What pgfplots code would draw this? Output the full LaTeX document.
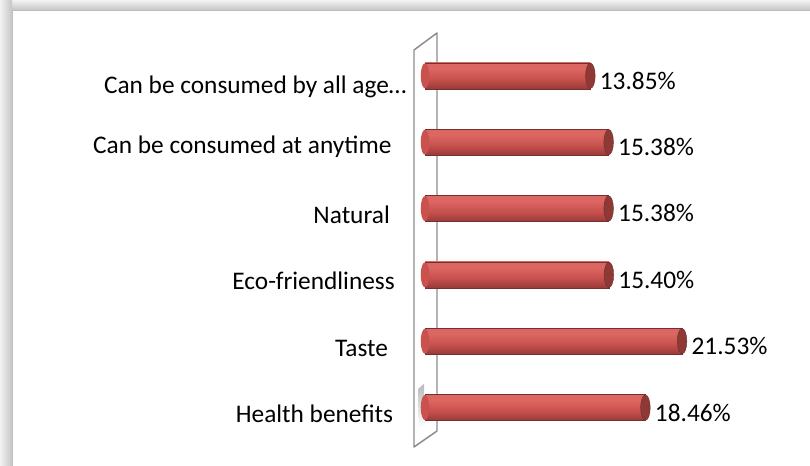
\documentclass[border=0pt]{standalone}
\usepackage{pgfplots}
\pgfplotsset{compat=1.18}
\usepackage{fontspec}
\setmainfont{Carlito}
\definecolor{barTop}{HTML}{A64441}
\definecolor{barHi}{HTML}{DC6662}
\definecolor{barMid}{HTML}{C9524F}
\definecolor{barBot}{HTML}{873230}
\definecolor{capCol}{HTML}{8E3936}
\definecolor{wallCol}{HTML}{8C8C8C}
\pgfdeclareverticalshading{cyl}{100bp}{color(0bp)=(barBot); color(18bp)=(barBot); color(45bp)=(barMid); color(64bp)=(barHi); color(84bp)=(barHi); color(95bp)=(barTop); color(100bp)=(barTop)}
\pgfdeclareplotmark{capR}{\pgfpathellipse{\pgfpointorigin}{\pgfpoint{3.6pt}{0pt}}{\pgfpoint{0pt}{9.5pt}}\pgfusepathqfillstroke}
\pgfdeclareplotmark{capL}{\pgfpathellipse{\pgfpointorigin}{\pgfpoint{3.2pt}{0pt}}{\pgfpoint{0pt}{9.4pt}}\pgfusepathqfill}
\pgfplotsset{cylbar/.style={xbar, bar width=19.5pt, bar shift=0pt, draw=barTop!70!black, line width=0.3pt, fill=barMid, shade, shading=cyl,
  point meta=x,
  nodes near coords={\pgfmathprintnumber[fixed, fixed zerofill, precision=2, assume math mode=true]{\pgfplotspointmeta}\%},
  every node near coord/.append style={anchor=base west, inner sep=0pt, xshift=7pt, yshift=-10.1pt, font=\fontsize{19}{22}\selectfont, text=black}}}
\begin{document}
\begin{tikzpicture}
\begin{scope}[x=0.75pt,y=0.75pt]
\useasboundingbox (0,0) rectangle (810,466);
\fill[white] (0,0) rectangle (810,466);
\shade[top color=gray!10, bottom color=gray!45] (0,456) rectangle (810,466);
\shade[left color=gray!10, right color=gray!45] (0,0) rectangle (12,466);
\draw[gray!50, line width=0.6pt] (12,0) -- (12,456) -- (810,456);
\draw[wallCol, line width=1.1pt, line join=round] (414,19) -- (414,416) -- (437,433) -- (437,35) -- cycle;
\shade[top color=gray!55, bottom color=white] (418,77) -- (424,82) -- (425,41) -- (419,38) -- cycle;
\end{scope}
\begin{axis}[
  at={(318.75pt,43.8pt)}, anchor=origin,
  x=8.955pt, y=49.77pt,
  xmin=0, xmax=30, ymin=-0.5, ymax=5.5,
  axis line style={draw=none},
  xtick=\empty,
  major tick length=0pt,
  ytick={0,1,2,3,4,5},
  yticklabels={Health benefits\hspace*{10pt}, Taste\hspace*{13.8pt}, Eco-friendliness\hspace*{8.75pt}, Natural\hspace*{12.5pt}, \raisebox{2.6pt}{Can be consumed at anytime}\hspace*{11.25pt}, {\raisebox{-1.9pt}{Can be consumed by all age\ldots}}},
  yticklabel style={anchor=base east, inner sep=0pt, xshift=-13.7pt, yshift=-11.25pt, font=\fontsize{19}{22}\selectfont, text=black},
  clip=false,
]
\addplot[only marks, mark=capL, mark options={fill=barMid}] coordinates {(0,0) (0,1) (0,2) (0,3) (0,4) (0,5)};
\addplot[cylbar] coordinates {(18.46,0)};
\addplot[cylbar] coordinates {(21.53,1)};
\addplot[cylbar] coordinates {(15.40,2)};
\addplot[cylbar] coordinates {(15.38,3)};
\addplot[cylbar] coordinates {(15.38,4)};
\addplot[cylbar] coordinates {(13.85,5)};
\addplot[only marks, mark=capR, mark options={fill=capCol, draw=capCol!80!black, line width=0.3pt}] coordinates {(18.46,0) (21.53,1) (15.40,2) (15.38,3) (15.38,4) (13.85,5)};
\end{axis}
\end{tikzpicture}
\end{document}
